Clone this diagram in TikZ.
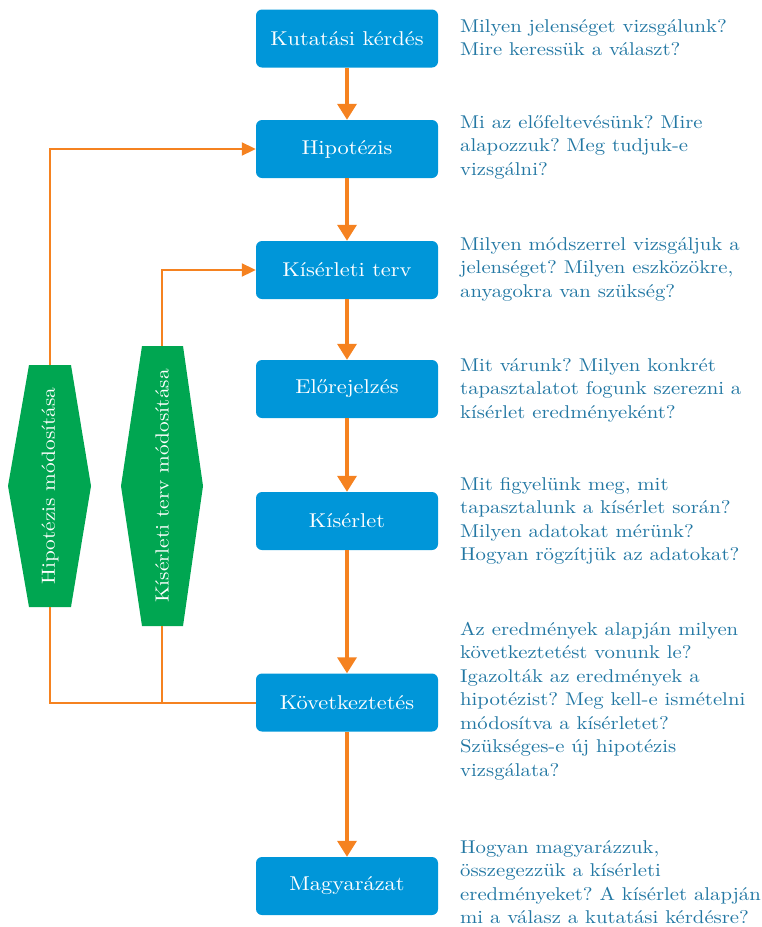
\documentclass[tikz,border=0pt]{standalone}
\usepackage{fontspec}
\setmainfont[FakeStretch=1.12]{lmroman10-regular.otf}
\usetikzlibrary{arrows.meta}
\definecolor{boxblue}{HTML}{0096D9}
\definecolor{hexgreen}{HTML}{00A651}
\definecolor{arr}{HTML}{F58220}
\definecolor{txt}{HTML}{2277A3}
\frenchspacing
\begin{document}
\begin{tikzpicture}[x=1pt,y=-1pt,
 stepbox/.style={fill=boxblue, rounded corners=6pt, minimum width=182pt, minimum height=58pt, text=white, font=\fontsize{20}{22}\selectfont, inner sep=0pt},
 desc/.style={anchor=base west, text=txt, align=left, font=\fontsize{18.5}{23.5}\selectfont, inner sep=0pt},
 hextext/.style={rotate=90, text=white, font=\fontsize{19}{22}\selectfont, inner sep=0pt},
 flow/.style={draw=arr, line width=3.5pt, -{Triangle[width=19pt,length=16pt]}},
 fbline/.style={draw=arr, line width=2pt},
 fbarrow/.style={fbline, -{Triangle[width=13pt,length=14pt]}},
]
\useasboundingbox (0,0) rectangle (761,927);
% main steps
\node[stepbox] (q) at (347,38.5) {Kutatási kérdés};
\node[stepbox] (hyp) at (347,149) {Hipotézis};
\node[stepbox] (plan) at (347,270) {Kísérleti terv};
\node[stepbox] (pred) at (347,389) {Előrejelzés};
\node[stepbox] (exp) at (347,521) {Kísérlet};
\node[stepbox] (conc) at (347,702.5) {Következtetés};
\node[stepbox] (expl) at (347,886) {Magyarázat};
\draw[flow] (q) -- (hyp);
\draw[flow] (hyp) -- (plan);
\draw[flow] (plan) -- (pred);
\draw[flow] (pred) -- (exp);
\draw[flow] (exp) -- (conc);
\draw[flow] (conc) -- (expl);
% descriptions (anchored at the baseline of their last line)
\node[desc] (d1) at (460,55.5) {Milyen jelenséget vizsgálunk?\\Mire keressük a választ?};
\node[desc] (d2) at (460,175) {Mi az előfeltevésünk? Mire\\alapozzuk? Meg tudjuk-e\\vizsgálni?};
\node[desc] (d3) at (460,297) {Milyen módszerrel vizsgáljuk a\\jelenséget? Milyen eszközökre,\\anyagokra van szükség?};
\node[desc] (d4) at (460,418) {Mit várunk? Milyen konkrét\\tapasztalatot fogunk szerezni a\\kísérlet eredményeként?};
\node[desc] (d5) at (460,560.5) {Mit figyelünk meg, mit\\tapasztalunk a kísérlet során?\\Milyen adatokat mérünk?\\Hogyan rögzítjük az adatokat?};
\node[desc] (d6) at (460,776) {Az eredmények alapján milyen\\következtetést vonunk le?\\Igazolták az eredmények a\\hipotézist? Meg kell-e ismételni\\módosítva a kísérletet?\\Szükséges-e új hipotézis\\vizsgálata?};
\node[desc] (d7) at (460,923.5) {Hogyan magyarázzuk,\\összegezzük a kísérleti\\eredményeket? A kísérlet alapján\\mi a válasz a kutatási kérdésre?};
% hexagons
\fill[hexgreen] (29,365) -- (71,365) -- (91,486) -- (71,607) -- (29,607) -- (8,486) -- cycle;
\fill[hexgreen] (142,346) -- (183,346) -- (203,486) -- (183,626) -- (142,626) -- (121,486) -- cycle;
\node[hextext] (hm) at (50,486) {Hipotézis módosítása};
\node[hextext] (km) at (162,486) {Kísérleti terv módosítása};
\coordinate (h1t) at (50,365);
\coordinate (h1b) at (50,607);
\coordinate (h2t) at (162,346);
\coordinate (h2b) at (162,626);
\coordinate (j1) at (50,702.5);
\coordinate (j2) at (162,702.5);
% feedback
\draw[fbline] (conc.west) -- (j1) -- (h1b);
\draw[fbline] (j2) -- (h2b);
\draw[fbarrow] (h1t) |- (hyp.west);
\draw[fbarrow] (h2t) |- (plan.west);
\end{tikzpicture}
\end{document}
